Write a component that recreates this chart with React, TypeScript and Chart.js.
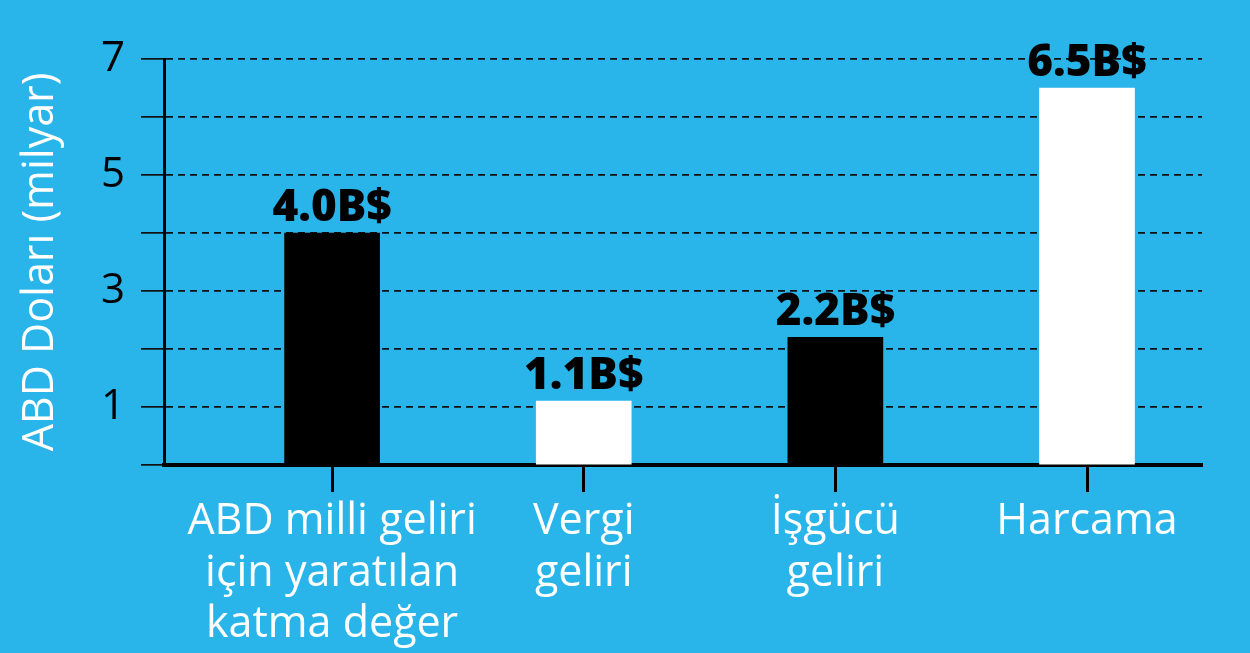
import React, { useEffect, useRef } from "react";
import { Chart, registerables } from "chart.js";

Chart.register(...registerables);

const categories: string[][] = [
  ["ABD milli geliri", "için yaratılan", "katma değer"],
  ["Vergi", "geliri"],
  ["İşgücü", "geliri"],
  ["Harcama"],
];
const values: number[] = [4.0, 1.1, 2.2, 6.5];
const valueLabels: string[] = ["4.0B$", "1.1B$", "2.2B$", "6.5B$"];
const barColors: string[] = ["#000000", "#ffffff", "#000000", "#ffffff"];
const yTickLabels: number[] = [1, 3, 5, 7];
const yTitle = "ABD Doları (milyar)";

const BG = "#29B5EA";

const valueLabelPlugin = {
  id: "valueLabels",
  afterDatasetsDraw(chart: any) {
    const ctx = chart.ctx;
    const meta = chart.getDatasetMeta(0);
    ctx.save();
    ctx.font = "800 44px 'Open Sans'";
    ctx.fillStyle = "#000";
    ctx.textAlign = "center";
    ctx.textBaseline = "alphabetic";
    meta.data.forEach((el: any, i: number) => {
      ctx.fillText(valueLabels[i], el.x, el.y - 12);
    });
    ctx.restore();
  },
};

export default function App() {
  const ref = useRef<HTMLCanvasElement>(null);
  useEffect(() => {
    document.body.style.margin = "0";
    document.body.style.background = BG;
    const chart = new Chart(ref.current!, {
      type: "bar",
      data: {
        datasets: [
          {
            data: values.map((v, i) => ({ x: i, y: v })),
            backgroundColor: barColors,
            borderWidth: 0,
            barThickness: 95,
          },
        ],
      },
      options: {
        animation: false,
        responsive: false,
        maintainAspectRatio: false,
        layout: { padding: { top: 59, right: 48, left: 0, bottom: 0 } },
        plugins: { legend: { display: false }, tooltip: { enabled: false } },
        scales: {
          x: {
            type: "linear",
            offset: false,
            min: -0.668,
            max: 3.457,
            afterBuildTicks: (scale: any) => {
              scale.ticks = categories.map((_, i) => ({ value: i }));
            },
            afterFit: (scale: any) => {
              scale.height = 188;
            },
            ticks: {
              autoSkip: false,
              maxRotation: 0,
              color: "#ffffff",
              font: { family: "'Open Sans'", size: 43, lineHeight: 1.2 },
              padding: 4,
              callback: (v: any) => categories[v as number] ?? "",
            },
            grid: {
              offset: false,
              drawOnChartArea: false,
              drawTicks: true,
              tickLength: 27,
              tickWidth: 3,
              tickColor: "#000",
            },
            border: { display: true, color: "#000", width: 4 },
          },
          y: {
            min: 0,
            max: 7,
            z: 1,
            afterBuildTicks: (scale: any) => {
              scale.ticks = [0, 1, 2, 3, 4, 5, 6, 7].map((v) => ({ value: v }));
            },
            afterFit: (scale: any) => {
              scale.width = 164;
            },
            ticks: {
              color: "#000",
              font: { family: "'Open Sans'", size: 42 },
              padding: 16,
              callback: (v: any) => (yTickLabels.includes(v as number) ? String(v) : ""),
            },
            grid: {
              color: "#111",
              lineWidth: 1.7,
              tickLength: 23,
              tickColor: "#111",
              tickWidth: 1.7,
              tickBorderDash: [],
            },
            border: { display: true, color: "#000", width: 3, dash: [7, 5] },
            title: {
              display: true,
              text: yTitle,
              color: "#ffffff",
              font: { family: "'Open Sans'", size: 43 },
              padding: { top: 15, bottom: 0 },
            },
          },
        },
      },
      plugins: [valueLabelPlugin],
    } as any);
    return () => chart.destroy();
  }, []);
  return (
    <div style={{ width: 1250, height: 653, background: BG }}>
      <canvas ref={ref} width={1250} height={653} style={{ display: "block" }} />
    </div>
  );
}
